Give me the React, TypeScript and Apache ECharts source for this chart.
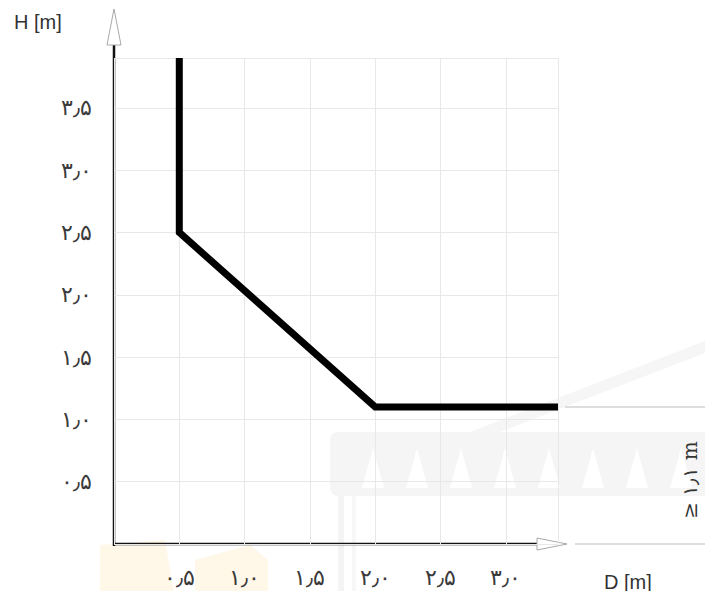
import React, { useEffect, useRef } from "react";
import * as echarts from "echarts";

const xTicks = [0.5, 1.0, 1.5, 2.0, 2.5, 3.0];
const yTicks = [0.5, 1.0, 1.5, 2.0, 2.5, 3.0, 3.5];
const curveD = [0.5, 0.5, 2.0, 3.4];
const curveH = [3.9, 2.5, 1.1, 1.1];
const xMax = 3.4;
const yMax = 3.9;

const faDigits = ["۰", "۱", "۲", "۳", "۴", "۵", "۶", "۷", "۸", "۹"];
const toFa = (v: number) =>
  v
    .toFixed(1)
    .replace(/\d/g, (d) => faDigits[Number(d)])
    .replace(".", "٫");

export default function App() {
  const ref = useRef<HTMLDivElement>(null);
  useEffect(() => {
    if (!ref.current) return;
    const chart = echarts.init(ref.current, undefined, { renderer: "svg" });
    const data = curveD.map((d, i) => [d, curveH[i]]);
    const labelStyle = {
      color: "#3a3a3a",
      fontSize: 22,
      fontWeight: 200,
      fontFamily: "DejaVu Sans",
    };
    const triangles: any[] = [];
    for (let i = 0; i < 8; i++) {
      const x0 = 362 + i * 44;
      triangles.push({
        type: "polygon",
        silent: true,
        z: -9,
        shape: { points: [[x0, 488], [x0 + 22, 488], [x0 + 11, 448]] },
        style: { fill: "#ffffff" },
      });
    }
    chart.setOption({
      animation: false,
      backgroundColor: "#fff",
      grid: { left: 114, right: 155, top: 58, bottom: 55 },
      xAxis: {
        type: "value",
        min: 0,
        max: xMax,
        interval: 0.5,
        axisLine: { show: false },
        axisTick: { show: false },
        splitLine: { show: true, lineStyle: { color: "#e8e8e8", width: 1 } },
        axisLabel: {
          ...labelStyle,
          margin: 22,
          showMaxLabel: false,
          formatter: (v: number) =>
            xTicks.some((t) => Math.abs(t - v) < 1e-6) ? toFa(v) : "",
        },
      },
      yAxis: {
        type: "value",
        min: 0,
        max: yMax,
        interval: 0.5,
        axisLine: { show: false },
        axisTick: { show: false },
        splitLine: { show: true, lineStyle: { color: "#e8e8e8", width: 1 } },
        axisLabel: {
          ...labelStyle,
          margin: 22,
          showMaxLabel: false,
          formatter: (v: number) =>
            yTicks.some((t) => Math.abs(t - v) < 1e-6) ? toFa(v) : "",
        },
      },
      graphic: [
        // watermark
        {
          type: "polygon",
          silent: true,
          z: -10,
          shape: { points: [[100, 545], [165, 540], [175, 599], [100, 599]] },
          style: { fill: "#fff7e8" },
        },
        {
          type: "polygon",
          silent: true,
          z: -10,
          shape: { points: [[195, 560], [250, 545], [268, 560], [268, 599], [195, 599]] },
          style: { fill: "#fff7e8" },
        },
        {
          type: "rect",
          silent: true,
          z: -10,
          shape: { x: 330, y: 432, width: 383, height: 64, r: 8 },
          style: { fill: "#f5f5f5" },
        },
        ...triangles,
        {
          type: "polygon",
          silent: true,
          z: -10,
          shape: { points: [[470, 432], [713, 338], [713, 350], [500, 432]] },
          style: { fill: "#f6f6f6" },
        },
        {
          type: "rect",
          silent: true,
          z: -10,
          shape: { x: 338, y: 496, width: 6, height: 103 },
          style: { fill: "#f4f4f4" },
        },
        {
          type: "rect",
          silent: true,
          z: -10,
          shape: { x: 352, y: 496, width: 4, height: 103 },
          style: { fill: "#f7f7f7" },
        },
        // axes
        {
          type: "line",
          shape: { x1: 114, y1: 546, x2: 114, y2: 45 },
          style: { stroke: "#111", lineWidth: 2.5 },
        },
        {
          type: "polygon",
          shape: { points: [[114, 9], [107, 45], [121, 45]] },
          style: { fill: "#fff", stroke: "#aaa", lineWidth: 1 },
        },
        {
          type: "line",
          shape: { x1: 113, y1: 544, x2: 537, y2: 544 },
          style: { stroke: "#111", lineWidth: 2.5 },
        },
        {
          type: "polygon",
          shape: { points: [[567, 544], [537, 538], [537, 550]] },
          style: { fill: "#fff", stroke: "#aaa", lineWidth: 1 },
        },
        // dimension
        {
          type: "line",
          shape: { x1: 565, y1: 407, x2: 713, y2: 407 },
          style: { stroke: "#bbb", lineWidth: 1 },
        },
        {
          type: "line",
          shape: { x1: 575, y1: 544, x2: 713, y2: 544 },
          style: { stroke: "#bbb", lineWidth: 1 },
        },
        {
          type: "line",
          shape: { x1: 712, y1: 410, x2: 712, y2: 541 },
          style: { stroke: "#555", lineWidth: 1.5 },
        },
        {
          type: "text",
          x: 690,
          y: 480,
          rotation: Math.PI / 2,
          style: {
            text: "≥ ۱٫۱ m",
            fill: "#333",
            fontSize: 20,
            fontFamily: "DejaVu Serif",
            align: "center",
            verticalAlign: "middle",
          },
        },
        {
          type: "text",
          x: 14,
          y: 22,
          style: {
            text: "H [m]",
            fill: "#333",
            fontSize: 20,
            fontFamily: "Liberation Sans",
            align: "left",
            verticalAlign: "middle",
          },
        },
        {
          type: "text",
          x: 604,
          y: 582,
          style: {
            text: "D [m]",
            fill: "#333",
            fontSize: 20,
            fontFamily: "Liberation Sans",
            align: "left",
            verticalAlign: "middle",
          },
        },
      ],
      series: [
        {
          type: "line",
          data,
          showSymbol: false,
          symbol: "none",
          lineStyle: { color: "#000", width: 7, join: "miter", cap: "butt" },
          z: 5,
        },
      ],
    });
    return () => chart.dispose();
  }, []);
  return <div ref={ref} style={{ width: 713, height: 599, margin: -8 }} />;
}
